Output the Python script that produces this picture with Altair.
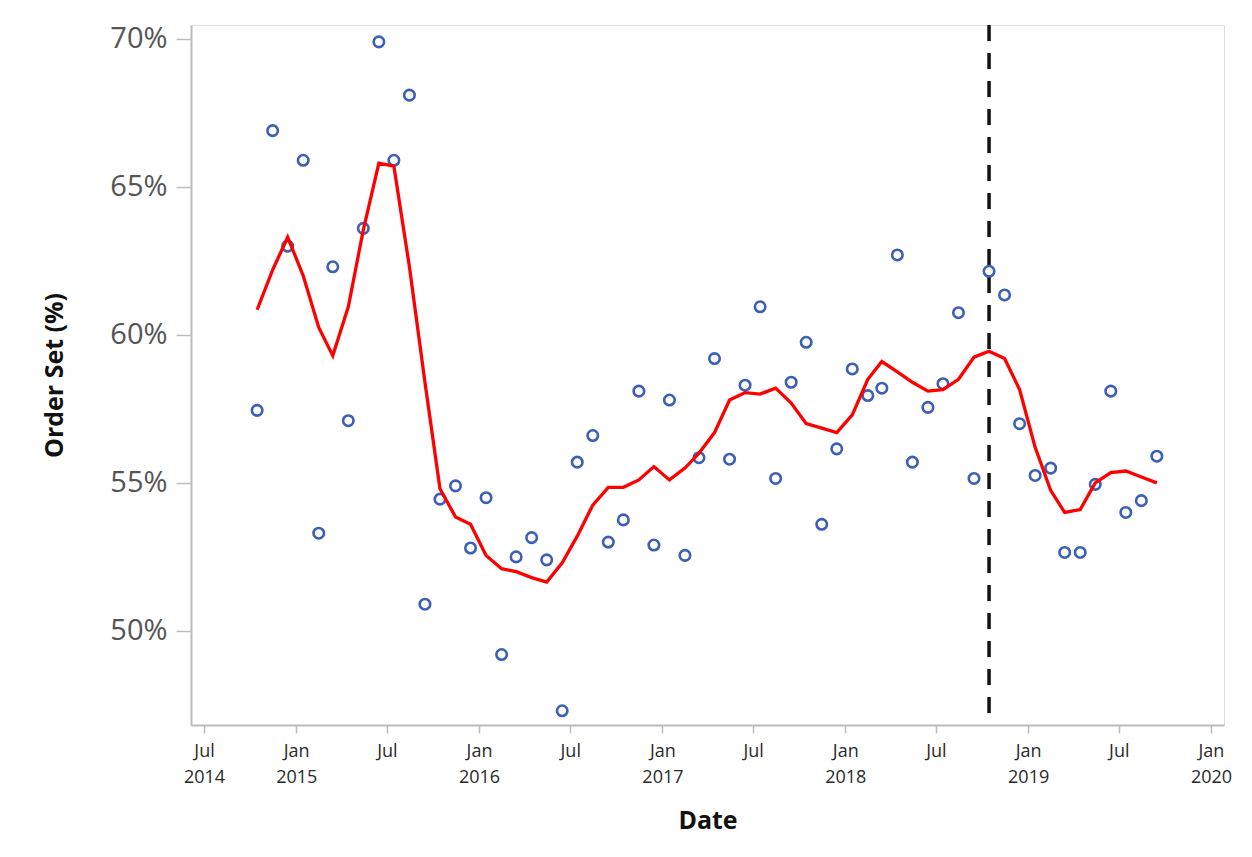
import altair as alt
import pandas as pd

# Monthly observations (15th of month), Oct 2014 .. Sep 2019
months = pd.date_range("2014-10-01", periods=60, freq="MS").strftime("%Y-%m-15").tolist()

observed = [
    57.45, 66.9, 63.0, 65.9, 53.3, 62.3, 57.1, 63.6, 69.9, 65.9,
    68.1, 50.9, 54.45, 54.9, 52.8, 54.5, 49.2, 52.5, 53.15, 52.4,
    47.3, 55.7, 56.6, 53.0, 53.75, 58.1, 52.9, 57.8, 52.55, 55.85,
    59.2, 55.8, 58.3, 60.95, 55.15, 58.4, 59.75, 53.6, 56.15, 58.85,
    57.95, 58.2, 62.7, 55.7, 57.55, 58.35, 60.75, 55.15, 62.15, 61.35,
    57.0, 55.25, 55.5, 52.65, 52.65, 54.95, 58.1, 54.0, 54.4, 55.9,
]

smoothed = [
    60.85, 62.2, 63.3, 62.0, 60.25, 59.3, 60.95, 63.55, 65.8, 65.7,
    62.3, 58.4, 54.8, 53.85, 53.6, 52.55, 52.1, 52.0, 51.8, 51.65,
    52.3, 53.2, 54.25, 54.85, 54.85, 55.1, 55.55, 55.1, 55.5, 56.0,
    56.7, 57.8, 58.05, 58.0, 58.2, 57.7, 57.0, 56.85, 56.7, 57.3,
    58.5, 59.1, 58.75, 58.4, 58.1, 58.15, 58.5, 59.25, 59.45, 59.2,
    58.15, 56.2, 54.75, 54.0, 54.1, 55.0, 55.35, 55.4, 55.2, 55.0,
]

reference_date = ["2018-10-15"]

y_ticks = [50, 55, 60, 65, 70]
x_tick_dates = [(2014, 7), (2015, 1), (2015, 7), (2016, 1), (2016, 7), (2017, 1),
                (2017, 7), (2018, 1), (2018, 7), (2019, 1), (2019, 7), (2020, 1)]

df = pd.DataFrame({"date": months, "observed": observed, "smoothed": smoothed})
ref = pd.DataFrame({"date": reference_date})

FONT = "Open Sans"

x_scale = alt.Scale(
    type="utc",
    domain=[alt.DateTime(year=2014, month=6, date=5, utc=True),
            alt.DateTime(year=2020, month=1, date=27, utc=True)],
    nice=False,
)
y_scale = alt.Scale(domain=[46.82, 70.47], nice=False, zero=False)

x_axis = alt.Axis(
    title="Date",
    values=[alt.DateTime(year=y, month=m, date=1, utc=True) for y, m in x_tick_dates],
    labelExpr="(utcmonth(datum.value) == 0 || utcyear(datum.value) == 2014) ? [utcFormat(datum.value, '%b'), utcFormat(datum.value, '%Y')] : utcFormat(datum.value, '%b')",
    labelFont=FONT, labelFontSize=18, labelColor="#2a2a2a", labelLineHeight=26,
    labelPadding=9, labelOverlap=False, labelFlush=False,
    tickSize=8, tickColor="#b8bcc0", tickWidth=1.5,
    domainColor="#b8bcc0", domainWidth=2,
    titleFont=FONT, titleFontSize=25, titleFontWeight="bold", titleColor="#111111",
    titlePadding=22, grid=False,
)
y_axis = alt.Axis(
    title="Order Set (%)",
    values=y_ticks,
    labelExpr="datum.value + '%'",
    labelFont=FONT, labelFontSize=29, labelColor="#555555",
    labelPadding=9,
    tickSize=15, tickColor="#b8bcc0", tickWidth=1.5,
    domainColor="#b8bcc0", domainWidth=2,
    titleFont=FONT, titleFontSize=25, titleFontWeight="bold", titleColor="#111111",
    titlePadding=42, grid=False,
)

base = alt.Chart(df)

points = base.mark_point(shape="circle", filled=False, size=110, strokeWidth=2.6, color="#3d5fb5", opacity=1).encode(
    x=alt.X("date:T", scale=x_scale, axis=x_axis),
    y=alt.Y("observed:Q", scale=y_scale, axis=y_axis),
)

line = base.mark_line(color="#ff0000", strokeWidth=3.3).encode(
    x=alt.X("date:T", scale=x_scale),
    y=alt.Y("smoothed:Q", scale=y_scale),
)

rule = alt.Chart(ref).mark_rule(color="#111111", strokeWidth=3.5, strokeDash=[16, 12]).encode(
    x=alt.X("date:T", scale=x_scale),
)

chart = alt.layer(rule, points, line).properties(
    width=1033, height=700,
    padding={"left": 34, "top": 15, "right": 5, "bottom": 5},
).configure_view(
    stroke="#c4c8cc", strokeWidth=2,
).configure(background="white")

chart.save("out.html", embed_options={"renderer": "svg", "actions": False})
